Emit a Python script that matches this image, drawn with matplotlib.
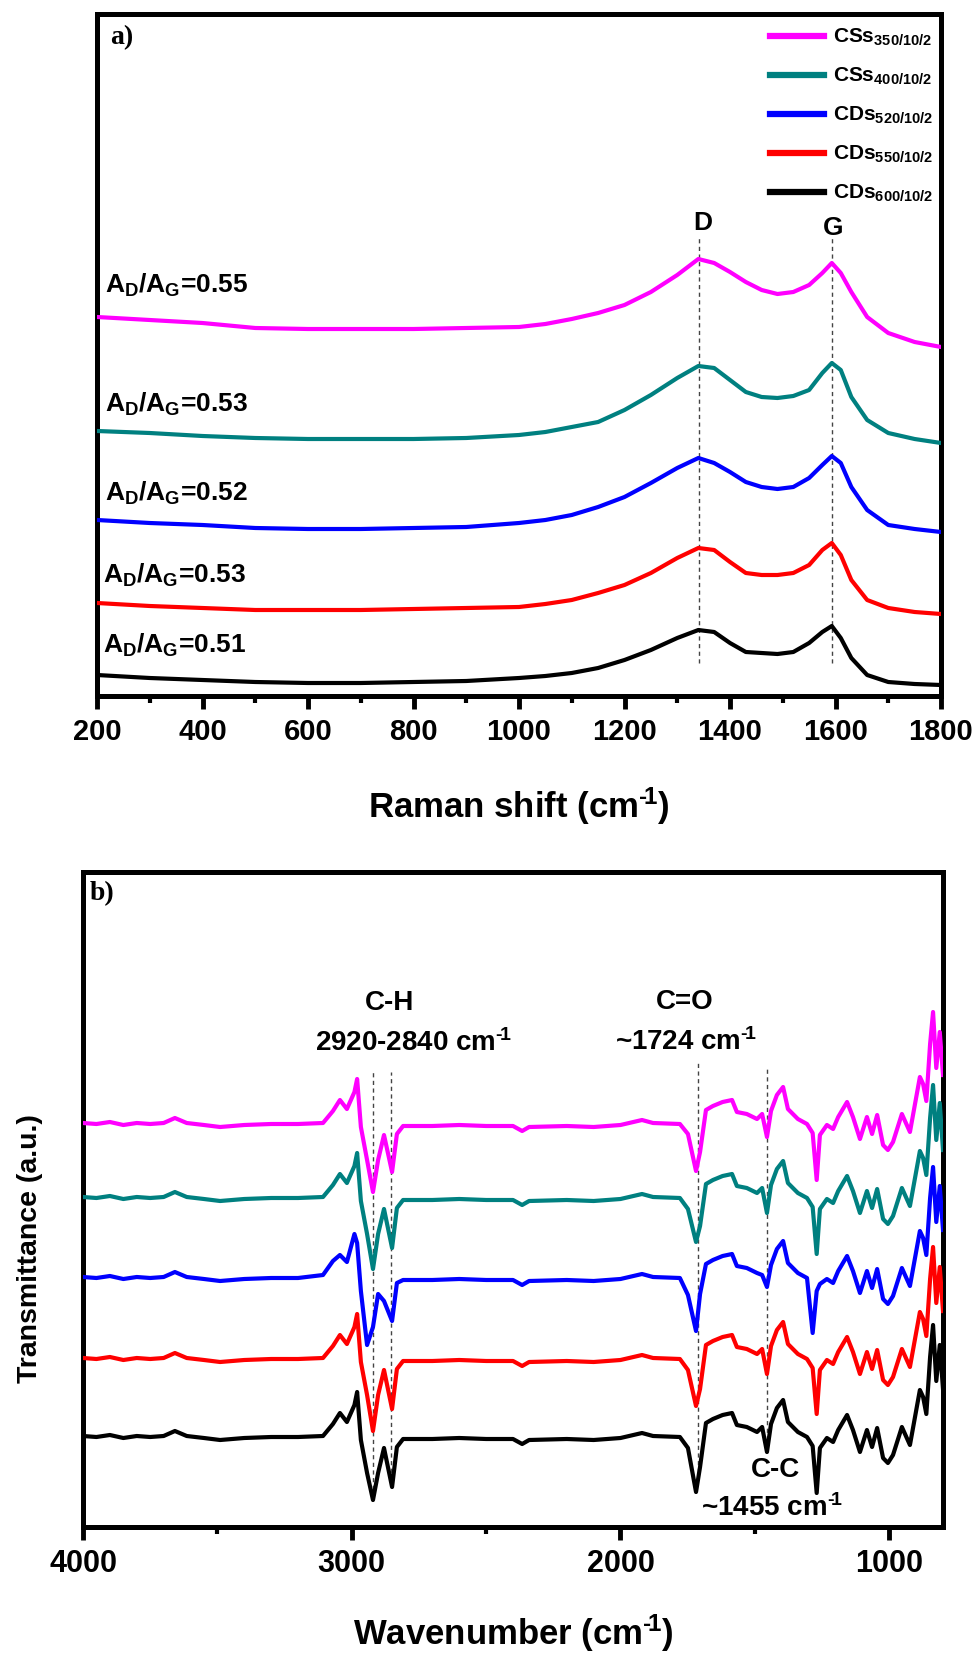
import matplotlib
matplotlib.use('Agg')
import matplotlib.pyplot as plt
from matplotlib.ticker import MultipleLocator

plt.rcParams['font.family'] = ['Liberation Sans', 'DejaVu Sans']
plt.rcParams['font.weight'] = 'bold'
plt.rcParams['mathtext.fontset'] = 'custom'
plt.rcParams['mathtext.rm'] = 'Liberation Sans:bold'
plt.rcParams['mathtext.it'] = 'Liberation Sans:bold'
plt.rcParams['mathtext.bf'] = 'Liberation Sans:bold'
plt.rcParams['mathtext.default'] = 'rm'

# ---------------- data ----------------
labels = ['CSs$_{350/10/2}$', 'CSs$_{400/10/2}$', 'CDs$_{520/10/2}$',
          'CDs$_{550/10/2}$', 'CDs$_{600/10/2}$']
colors = ['#ff00ff', '#008080', '#0000ff', '#ff0000', '#000000']
ratio_labels = ['0.55', '0.53', '0.52', '0.53', '0.51']

# Raman (a.u., stacked as in the figure)
raman_x = [200, 300, 400, 500, 600, 700, 800, 900, 1000, 1050, 1100, 1150, 1200,
           1250, 1300, 1340, 1370, 1400, 1430, 1460, 1490, 1520, 1550, 1575,
           1593, 1610, 1630, 1660, 1700, 1750, 1800]
raman_css350 = [379, 376, 373, 368, 367, 367, 367, 368, 369, 372, 377, 383, 391,
                404, 421, 437, 433, 424, 414, 406, 402, 404, 411, 423, 433, 423,
                404, 379, 363, 354, 349]
raman_css400 = [265, 263, 260, 258, 257, 257, 257, 258, 261, 264, 269, 274, 286,
                301, 318, 330, 328, 316, 304, 299, 298, 300, 306, 323, 333, 326,
                299, 276, 263, 257, 253]
raman_cds520 = [176, 173, 171, 168, 167, 167, 168, 169, 173, 176, 181, 189, 199,
                213, 228, 238, 233, 224, 214, 209, 207, 209, 218, 231, 240, 233,
                209, 186, 171, 167, 164]
raman_cds550 = [93, 90, 88, 86, 86, 86, 87, 88, 89, 92, 96, 103, 111, 123, 138,
                148, 146, 134, 123, 121, 121, 123, 131, 146, 153, 141, 116, 96,
                88, 84, 82]
raman_cds600 = [21, 18, 16, 14, 13, 13, 14, 15, 18, 20, 23, 28, 36, 46, 58, 66,
                64, 53, 44, 43, 42, 44, 53, 64, 70, 58, 38, 21, 14, 12, 11]
raman_series = [raman_css350, raman_css400, raman_cds520, raman_cds550, raman_cds600]
raman_label_y = [403, 284, 195, 113, 43]
d_band, g_band = 1341, 1593

# FTIR (a.u., stacked as in the figure)
ftir_x = [4000, 3950, 3900, 3850, 3800, 3750, 3700, 3658, 3614, 3550,
          3490, 3400, 3300, 3200, 3107, 3070, 3044, 3018, 2990, 2980,
          2966, 2943, 2921, 2902, 2880, 2850, 2832, 2809, 2700, 2600,
          2500, 2400, 2366, 2340, 2200, 2100, 2000, 1920, 1879, 1779,
          1749, 1719, 1704, 1682, 1656, 1620, 1585, 1567, 1530, 1492,
          1473, 1455, 1440, 1418, 1395, 1377, 1340, 1306, 1285, 1270,
          1258, 1232, 1209, 1190, 1157, 1135, 1109, 1083, 1064, 1045,
          1023, 1005, 986, 953, 923, 886, 874, 862, 848, 837,
          825, 812, 800]
ftir_css350 = [404, 403, 405, 402, 404, 403, 404, 409, 404, 402,
               400, 402, 403, 403, 404, 416, 427, 418, 435, 448,
               400, 367, 335, 367, 392, 355, 393, 401, 401, 402,
               401, 401, 396, 400, 401, 400, 402, 407, 404, 403,
               393, 356, 375, 417, 421, 425, 427, 415, 413, 408,
               413, 390, 416, 432, 440, 418, 408, 403, 394, 347,
               392, 402, 398, 410, 425, 410, 388, 410, 393, 412,
               382, 377, 385, 413, 395, 450, 443, 426, 483, 515,
               459, 495, 452]
ftir_css400 = [330, 329, 331, 328, 330, 329, 330, 335, 330, 328,
               326, 328, 329, 329, 330, 342, 353, 344, 361, 374,
               326, 293, 258, 293, 318, 279, 319, 327, 327, 328,
               327, 327, 322, 326, 327, 326, 328, 333, 330, 329,
               318, 285, 301, 343, 347, 351, 353, 341, 339, 334,
               339, 314, 342, 358, 366, 344, 334, 329, 320, 273,
               318, 328, 324, 336, 351, 336, 314, 336, 319, 338,
               308, 303, 311, 339, 321, 376, 369, 352, 409, 442,
               387, 424, 377]
ftir_cds520 = [250, 249, 251, 248, 250, 249, 250, 255, 250, 248,
               246, 248, 249, 249, 252, 266, 272, 265, 293, 284,
               236, 182, 200, 233, 226, 206, 244, 247, 247, 248,
               247, 247, 242, 246, 247, 246, 248, 253, 250, 249,
               232, 196, 233, 263, 267, 271, 273, 261, 259, 254,
               252, 240, 262, 278, 286, 264, 254, 249, 194, 236,
               243, 248, 244, 256, 271, 256, 234, 256, 239, 258,
               228, 223, 231, 259, 241, 296, 289, 272, 329, 360,
               305, 341, 297]
ftir_cds550 = [169, 168, 170, 167, 169, 168, 169, 174, 169, 167,
               165, 167, 168, 168, 169, 181, 192, 183, 200, 213,
               165, 132, 96, 132, 157, 118, 158, 166, 166, 167,
               166, 166, 161, 165, 166, 165, 167, 172, 169, 168,
               157, 121, 138, 182, 186, 190, 192, 180, 178, 173,
               178, 153, 181, 197, 205, 183, 173, 168, 159, 113,
               157, 167, 163, 175, 190, 175, 153, 175, 158, 177,
               147, 142, 150, 178, 160, 215, 208, 191, 248, 280,
               224, 260, 216]
ftir_cds600 = [91, 90, 92, 89, 91, 90, 91, 96, 91, 89,
               87, 89, 90, 90, 91, 103, 114, 105, 122, 135,
               87, 54, 27, 54, 79, 40, 80, 88, 88, 89,
               88, 88, 83, 87, 88, 87, 89, 94, 91, 90,
               79, 35, 60, 104, 108, 112, 114, 102, 100, 95,
               100, 75, 103, 119, 127, 105, 95, 90, 81, 34,
               79, 89, 85, 97, 112, 97, 75, 97, 80, 99,
               69, 64, 72, 100, 82, 137, 130, 113, 170, 202,
               146, 182, 138]
ftir_series = [ftir_css350, ftir_css400, ftir_cds520, ftir_cds550, ftir_cds600]
ch_bands = [2920, 2855]
co_band = 1712
cc_band = 1455

INV = '$^{\u2010\\!1}$'  # superscript "-1" drawn with a hyphen

# ---------------- figure ----------------
W, H = 979, 1653
fig = plt.figure(figsize=(W / 100, H / 100), dpi=100)

def frac_box(l, t, r, b):
    return [l / W, 1 - b / H, (r - l) / W, (b - t) / H]

SP = 3.6
dash_kw = dict(color='#444444', lw=1.0, ls=(0, (3, 2.5)), zorder=1)

# ---- panel a: Raman ----
ax1 = fig.add_axes(frac_box(97, 14, 941, 696))
for ys, c, lab in zip(raman_series, colors, labels):
    ax1.plot(raman_x, ys, color=c, lw=3.0, label=lab, zorder=3)
ax1.set_xlim(200, 1800)
ax1.set_ylim(0, 682)
ax1.set_yticks([])
ax1.xaxis.set_major_locator(MultipleLocator(200))
ax1.xaxis.set_minor_locator(MultipleLocator(100))
ax1.tick_params(axis='x', which='major', direction='out', length=9, width=3.5,
                labelsize=21, pad=7)
ax1.tick_params(axis='x', which='minor', direction='out', length=5, width=3)
for lab in ax1.get_xticklabels():
    lab.set_fontweight('bold')
for s in ax1.spines.values():
    s.set_linewidth(SP)

for xb in (d_band, g_band):
    ax1.plot([xb, xb], [33, 459], **dash_kw)
ax1.text(1349, 473, 'D', ha='center', va='center', fontsize=19, fontweight='bold')
ax1.text(1595, 468, 'G', ha='center', va='center', fontsize=19, fontweight='bold')
for i, (yv, r) in enumerate(zip(raman_label_y, ratio_labels)):
    xx = 215 if i < 3 else 211
    ax1.text(xx, yv, 'A$_{D}$/A$_{G}$=' + r, ha='left', va='baseline',
             fontsize=19, fontweight='bold')

leg = ax1.legend(loc='upper left', bbox_to_anchor=(0.797, 0.981), frameon=False,
                 fontsize=15, handlelength=2.6, handletextpad=0.45,
                 labelspacing=0.85, borderpad=0, borderaxespad=0)
for ln in leg.get_lines():
    ln.set_linewidth(4.5)
for t in leg.get_texts():
    t.set_fontweight('bold')

fig.text(110 / W, 1 - 38 / H, 'a)', ha='left', va='center', fontsize=20,
         fontweight='bold', family='Liberation Serif')
fig.text(519 / W, 1 - 806 / H, 'Raman shift (cm' + INV + ')', ha='center',
         va='center', fontsize=25, fontweight='bold')

# ---- panel b: FTIR ----
ax2 = fig.add_axes(frac_box(83, 872, 943, 1527))
for ys, c in zip(ftir_series, colors):
    ax2.plot(ftir_x, ys, color=c, lw=3.0, zorder=3)
ax2.set_xlim(4000, 800)
ax2.set_ylim(0, 655)
ax2.set_yticks([])
ax2.set_xticks([4000, 3000, 2000, 1000])
ax2.set_xticks([3500, 2500, 1500], minor=True)
ax2.tick_params(axis='x', which='major', direction='out', length=9, width=3.5,
                labelsize=22, pad=7)
ax2.tick_params(axis='x', which='minor', direction='out', length=5, width=3)
for lab in ax2.get_xticklabels():
    lab.set_fontweight('bold')
for s in ax2.spines.values():
    s.set_linewidth(SP)

ax2.plot([ch_bands[0]] * 2, [30, 457], **dash_kw)
ax2.plot([ch_bands[1]] * 2, [47, 455], **dash_kw)
ax2.plot([co_band] * 2, [47, 467], **dash_kw)
ax2.plot([cc_band] * 2, [87, 459], **dash_kw)

ann = dict(ha='center', va='center', fontsize=20, fontweight='bold')
ax2.text(2861, 524, 'C-H', **ann)
ax2.text(2772, 484, '2920-2840 cm' + INV, **ann)
ax2.text(1760, 525, 'C=O', **ann)
ax2.text(1756, 485, '~1724 cm' + INV, **ann)
ax2.text(1425, 57, 'C-C', **ann)
ax2.text(1436, 19, '~1455 cm' + INV, **ann)

fig.text(90 / W, 1 - 894 / H, 'b)', ha='left', va='center', fontsize=20,
         fontweight='bold', family='Liberation Serif')
fig.text(513 / W, 1 - 1633 / H, 'Wavenumber (cm' + INV + ')', ha='center',
         va='center', fontsize=25, fontweight='bold')
fig.text(30 / W, 1 - 1249 / H, 'Transmittance (a.u.)', ha='center',
         va='center', rotation=90, fontsize=20.5, fontweight='bold')

fig.savefig('out.png', dpi=100)
